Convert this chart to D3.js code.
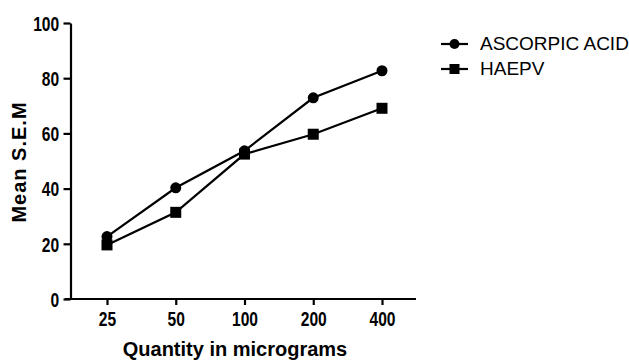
<!DOCTYPE html>
<html>
<head>
<meta charset="utf-8">
<script src="https://cdn.jsdelivr.net/npm/d3@7"></script>
<style>
  body { margin: 0; background: #fff; }
  text { font-family: "Liberation Sans", Arial, sans-serif; }
</style>
</head>
<body>
<svg width="629" height="362"></svg>
<script>
const doses = ['25', '50', '100', '200', '400'];
const ascorbic = [22.6, 40.3, 53.7, 72.9, 82.7];
const haepv = [19.6, 31.4, 52.5, 59.7, 69.1];
const yTicks = [0, 20, 40, 60, 80, 100];
const seriesNames = ['ASCORPIC ACID', 'HAEPV'];

const svg = d3.select('svg');

const x = d3.scalePoint().domain(doses).range([107, 382]);
const y = d3.scaleLinear().domain([0, 100]).range([299, 23]);

// x axis
const xAxis = svg.append('g')
  .attr('transform', 'translate(0,299)')
  .call(d3.axisBottom(x).tickSize(6).tickSizeOuter(0));
xAxis.select('.domain').remove();
xAxis.selectAll('.tick text').attr('y', 27).attr('dy', 0);
svg.append('line')
  .attr('x1', 65).attr('x2', 416)
  .attr('y1', 299).attr('y2', 299)
  .attr('stroke', '#000').attr('stroke-width', 2.2);

// y axis
const yAxis = svg.append('g')
  .attr('transform', 'translate(70.5,0)')
  .call(d3.axisLeft(y).tickValues(yTicks).tickSize(7).tickSizeOuter(0));
yAxis.select('.domain').attr('stroke-width', 2.2);
yAxis.selectAll('.tick text').attr('x', -14.5).attr('dy', '0.36em');

svg.selectAll('.tick line').attr('stroke-width', 2.2);
svg.selectAll('.tick text')
  .attr('transform', 'scale(0.78,1)')
  .style('font-size', '20px')
  .style('font-weight', 'bold')
  .attr('fill', '#000');

// axis titles
svg.append('text')
  .attr('x', 235).attr('y', 356)
  .attr('text-anchor', 'middle')
  .style('font-size', '20px')
  .style('font-weight', 'bold')
  .text('Quantity in micrograms');

svg.append('text')
  .attr('transform', 'translate(26,162) rotate(-90)')
  .attr('text-anchor', 'middle')
  .style('font-size', '20px')
  .style('font-weight', 'bold')
  .style('letter-spacing', '1px')
  .text('Mean S.E.M');

const line = d3.line()
  .x((d, i) => x(doses[i]))
  .y((d) => y(d));

svg.append('path').datum(ascorbic)
  .attr('d', line).attr('fill', 'none')
  .attr('stroke', '#000').attr('stroke-width', 2.2);
svg.append('path').datum(haepv)
  .attr('d', line).attr('fill', 'none')
  .attr('stroke', '#000').attr('stroke-width', 2.2);

svg.selectAll('circle.pt')
  .data(ascorbic)
  .join('circle')
  .attr('class', 'pt')
  .attr('cx', (d, i) => x(doses[i]))
  .attr('cy', (d) => y(d))
  .attr('r', 5.5)
  .attr('fill', '#000');

svg.selectAll('rect.pt')
  .data(haepv)
  .join('rect')
  .attr('class', 'pt')
  .attr('x', (d, i) => x(doses[i]) - 5.5)
  .attr('y', (d) => y(d) - 5.5)
  .attr('width', 11)
  .attr('height', 11)
  .attr('fill', '#000');

// legend
const legend = svg.selectAll('g.leg')
  .data(seriesNames)
  .join('g')
  .attr('class', 'leg')
  .attr('transform', (d, i) => `translate(441,${44 + i * 25})`);

legend.append('line')
  .attr('x1', 0).attr('x2', 27)
  .attr('stroke', '#000').attr('stroke-width', 2.2);

legend.each(function (d, i) {
  const g = d3.select(this);
  if (i == 0) {
    g.append('circle').attr('cx', 13.5).attr('r', 5).attr('fill', '#000');
  } else {
    g.append('rect').attr('x', 8.5).attr('y', -5).attr('width', 10).attr('height', 10).attr('fill', '#000');
  }
});

legend.append('text')
  .attr('x', 39).attr('y', 6)
  .attr('transform', 'scale(1,1)')
  .style('font-size', '19px')
  .text((d) => d);
</script>
</body>
</html>
